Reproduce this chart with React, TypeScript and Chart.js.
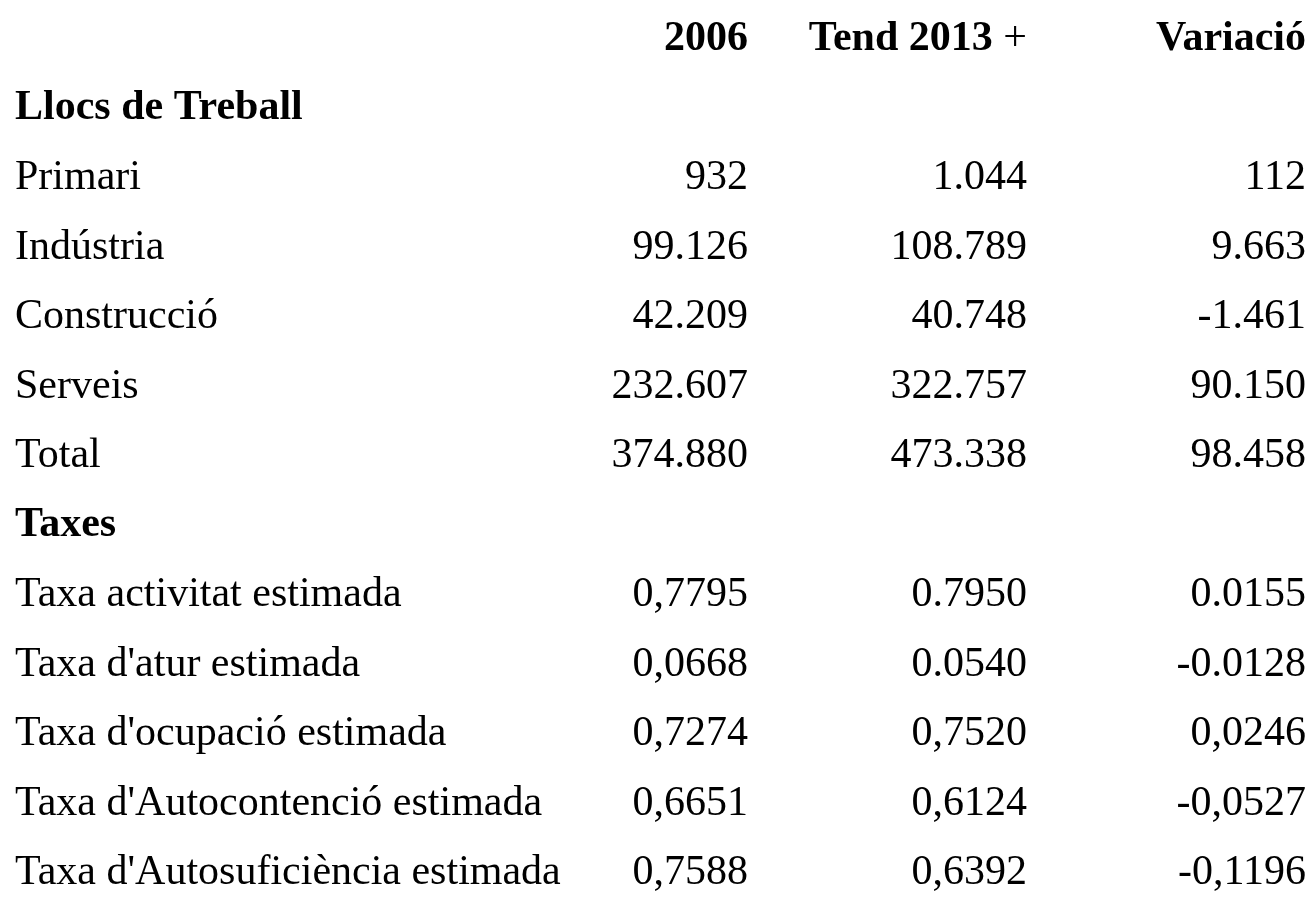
import React, { useEffect, useRef } from 'react';
import { Chart, registerables } from 'chart.js';

Chart.register(...registerables);

const FONT = '"Liberation Serif", "Times New Roman", Times, serif';
const FONT_SIZE = 42;

// Table rows (first row holds the column headings)
const rowLabels = [
  '',
  'Llocs de Treball',
  'Primari',
  'Indústria',
  'Construcció',
  'Serveis',
  'Total',
  'Taxes',
  'Taxa activitat estimada',
  "Taxa d'atur estimada",
  "Taxa d'ocupació estimada",
  "Taxa d'Autocontenció estimada",
  "Taxa d'Autosuficiència estimada",
];

const sectionRows = ['Llocs de Treball', 'Taxes'];

const columnHeaders = ['2006', 'Tend 2013 +', 'Variació'];

const dataRows = [
  'Primari',
  'Indústria',
  'Construcció',
  'Serveis',
  'Total',
  'Taxa activitat estimada',
  "Taxa d'atur estimada",
  "Taxa d'ocupació estimada",
  "Taxa d'Autocontenció estimada",
  "Taxa d'Autosuficiència estimada",
];

const values2006 = ['932', '99.126', '42.209', '232.607', '374.880', '0,7795', '0,0668', '0,7274', '0,6651', '0,7588'];
const valuesTend2013 = ['1.044', '108.789', '40.748', '322.757', '473.338', '0.7950', '0.0540', '0,7520', '0,6124', '0,6392'];
const valuesVariacio = ['112', '9.663', '-1.461', '90.150', '98.458', '0.0155', '-0.0128', '0,0246', '-0,0527', '-0,1196'];

const columnValues = [values2006, valuesTend2013, valuesVariacio];

export default function App() {
  const canvasRef = useRef<HTMLCanvasElement | null>(null);

  useEffect(() => {
    if (!canvasRef.current) return;

    const cellTextPlugin = {
      id: 'cellText',
      afterDatasetsDraw(chart: any) {
        const ctx = chart.ctx as CanvasRenderingContext2D;
        const xs = chart.scales.x;
        const ys = chart.scales.y;
        ctx.save();
        ctx.fillStyle = '#000000';
        ctx.textBaseline = 'middle';
        ctx.textAlign = 'right';

        // column headings (bold), right-aligned on their column
        const hy = ys.getPixelForValue(0);
        columnHeaders.forEach((h, i) => {
          const x = xs.getPixelForValue(i);
          if (h.endsWith(' +')) {
            const main = h.slice(0, -2);
            ctx.font = `400 ${FONT_SIZE}px ${FONT}`;
            const plusW = ctx.measureText(' +').width;
            ctx.fillText(' +', x, hy);
            ctx.font = `700 ${FONT_SIZE}px ${FONT}`;
            ctx.fillText(main, x - plusW, hy);
          } else {
            ctx.font = `700 ${FONT_SIZE}px ${FONT}`;
            ctx.fillText(h, x, hy);
          }
        });

        // value cells
        ctx.font = `400 ${FONT_SIZE}px ${FONT}`;
        chart.data.datasets.forEach((ds: any, di: number) => {
          const meta = chart.getDatasetMeta(di);
          meta.data.forEach((pt: any, j: number) => {
            ctx.fillText(ds.texts[j], pt.x, pt.y);
          });
        });
        ctx.restore();
      },
    };

    const chart = new Chart(canvasRef.current, {
      type: 'scatter',
      data: {
        datasets: columnHeaders.map((h, ci) => ({
          label: h,
          texts: columnValues[ci],
          data: dataRows.map((r) => ({ x: h, y: r })),
          pointRadius: 0,
          pointHoverRadius: 0,
          showLine: false,
        })) as any,
      },
      options: {
        animation: false,
        responsive: true,
        maintainAspectRatio: false,
        events: [],
        layout: { padding: { left: 7, right: 0, top: 31, bottom: 31 } },
        plugins: {
          legend: { display: false },
          tooltip: { enabled: false },
          title: { display: false },
        },
        scales: {
          x: {
            type: 'category',
            labels: columnHeaders,
            offset: false,
            display: false,
          },
          y: {
            type: 'category',
            labels: rowLabels,
            offset: false,
            position: 'left',
            grid: { display: false },
            border: { display: false },
            afterFit: (scale: any) => {
              scale.width = 733;
            },
            ticks: {
              crossAlign: 'far',
              padding: 0,
              color: '#000000',
              autoSkip: false,
              font: (c: any) => ({
                family: FONT,
                size: FONT_SIZE,
                weight: sectionRows.includes(rowLabels[c.index]) ? 'bold' : 'normal',
              }),
            },
          },
        },
      } as any,
      plugins: [cellTextPlugin],
    });

    return () => {
      chart.destroy();
    };
  }, []);

  return (
    <div style={{ width: '1298px', height: '896px', position: 'relative' }}>
      <canvas ref={canvasRef} />
    </div>
  );
}
